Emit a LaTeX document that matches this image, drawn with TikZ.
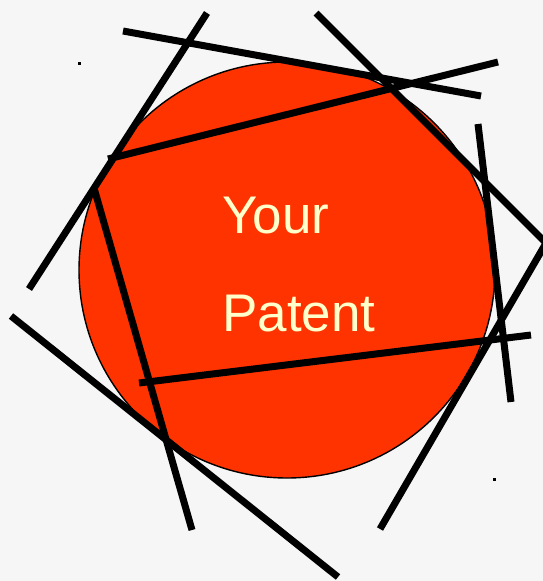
\documentclass[tikz,border=0pt]{standalone}
\usepackage{fontspec}
\setmainfont{Liberation Sans}
\usepackage{tikz}
\definecolor{patentred}{HTML}{FF3300}
\definecolor{patentcream}{HTML}{FFFFCC}
\definecolor{patentbg}{HTML}{F6F6F6}

\tikzset{cut/.style={line width=7pt,black}}

\begin{document}
\begin{tikzpicture}[x=1pt,y=-1pt]
    \fill[patentbg] (0,0) rectangle (543,581);
    \useasboundingbox (0,0) rectangle (543,581);
    \clip (0,0) rectangle (543,581);
    \draw[fill=patentred,line width=1.4pt] (287,270) circle (208pt);
    \node[anchor=base west,text=patentcream,inner sep=0pt,font=\fontsize{53}{53}\selectfont] (your) at (222,233) {Your};
    \node[anchor=base west,text=patentcream,inner sep=0pt,font=\fontsize{53}{53}\selectfont] (patent) at (222,331) {Patent};
    \draw[cut] (123,31) -- (481,96);
    \draw[cut] (207,13) -- (29,289);
    \draw[cut] (316,13) -- (560,257);
    \draw[cut] (108,159) -- (498,62);
    \draw[cut] (478,124) -- (511,402);
    \draw[cut] (94,188) -- (192,530);
    \draw[cut] (139,383) -- (531,335);
    \draw[cut] (11,316) -- (338,577);
    \draw[cut] (380,529) -- (553,231);
    \fill (78,62) rectangle (81,65);
    \fill (493,478) rectangle (496,481);
  \end{tikzpicture}
\end{document}
